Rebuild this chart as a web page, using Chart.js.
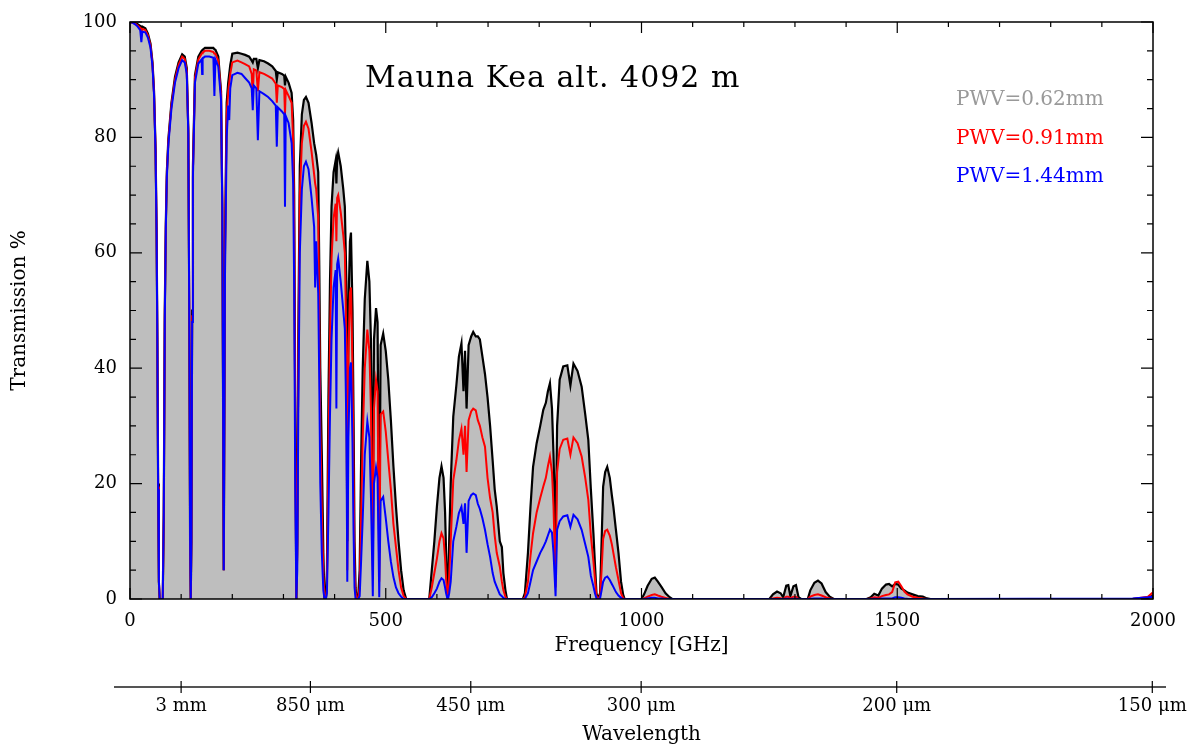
<!DOCTYPE html>
<html>
<head>
<meta charset="utf-8">
<title>Mauna Kea transmission</title>
<script src="https://cdn.jsdelivr.net/npm/chart.js@4/dist/chart.umd.min.js"></script>
<style>
    html, body { margin: 0; padding: 0; background: #fff; }
    canvas { display: block; }
</style>
</head>
<body>
<canvas id="chartTrans" width="1191" height="746"></canvas>
<script>

// =====================================
// DATA
// =====================================

// frequency grid [GHz], one row per atmospheric window
const freq = [
    0, 5, 10, 15, 20, 22.2, 24, 30, 35, 40, 44, 47, 50, 52, 53.5, 55, 56.5, 58,
    64, 66, 68, 70, 72, 75, 81, 88, 95, 102, 107, 111, 114, 116, 117.5, 118.75, 120, 121.5, 123,
    127, 133.6, 140, 141, 142, 146.6, 155, 163, 165, 167, 172.6, 178, 180.5, 183.3, 185.7,
    189, 192, 194, 196, 200, 210, 218, 225, 233, 238, 240, 242, 247, 250, 253, 262, 270, 278, 285, 287, 289, 297, 301.5, 303, 304.5, 310, 316, 319, 321, 323, 325.2,
    327, 329, 332, 336, 340, 344, 349, 355, 360, 362, 364, 368, 370, 372, 375, 378, 380.2, 383,
    385, 388, 391, 394, 398, 402, 403.5, 405, 407, 412, 417, 420, 423, 424.8, 427, 430, 432, 435, 437, 439, 441, 443,
    446, 449, 452, 455, 459, 464, 468, 471, 474.7, 477, 481, 484, 487.3, 490, 495, 500, 505, 510, 515, 520, 525, 530, 535, 540,
    585, 590, 595, 600, 605, 609, 613, 616, 618, 620.7,
    622, 624, 627, 632, 638, 643, 648, 652, 655, 658, 662, 667, 671, 676, 680, 684, 689, 694, 699, 704, 709, 713, 717, 723, 727, 730, 734, 737,
    768, 772, 778, 783, 788, 795, 802, 808, 813, 817, 821, 825, 828, 832, 835, 840, 847, 855, 861, 867, 875, 883, 890, 896, 901, 906, 909, 912, 915,
    919, 922, 925, 929, 933, 938, 942, 945, 950, 955, 960, 964, 967,
    1000, 1005, 1012, 1020, 1026, 1032, 1039, 1047, 1055, 1060,
    1250, 1257, 1265, 1272, 1277, 1283, 1287, 1291, 1297, 1302, 1307, 1312, 1325, 1330, 1338, 1345, 1352, 1360, 1368, 1376,
    1440, 1448, 1455, 1463, 1470, 1478, 1484, 1490, 1496, 1502, 1508, 1514, 1520, 1530, 1540, 1550, 1558, 1565,
    1960, 1990, 1998, 2000
];

// transmission [%] for PWV = 0.62 mm
const pwv062 = [
    100, 99.9, 99.8, 99.6, 99.3, 98.8, 99.2, 98.9, 98.0, 96.3, 93.0, 88.0, 78.0, 64.0, 45, 20, 3, 0,
    0, 15, 50, 65, 74, 79.7, 86, 90.5, 93, 94.4, 94, 92, 81.6, 49, 10, 0, 10, 50, 75,
    90.8, 94, 95, 95.1, 95.2, 95.5, 95.5, 95.5, 95.3, 95.2, 94, 88, 68.6, 5, 62,
    86, 89.5, 91, 92.5, 94.5, 94.7, 94.5, 94.3, 94, 93.3, 93, 93.6, 93.6, 92, 93.4, 93.2, 92.8, 92.3, 91.5, 90, 91.3, 91, 90.7, 89, 90.5, 89.5, 87.7, 83, 70, 35, 0,
    10, 45, 75, 84, 86.5, 87, 86, 82.5, 79, 78, 77, 74, 58, 40, 25, 8, 0, 0,
    5, 35, 55, 68, 74, 76, 72, 76.5, 77.4, 75, 71, 68, 55, 10, 50, 62, 63.5, 50, 32, 10, 2, 0,
    0, 5, 25, 40, 52, 58.6, 55, 45, 15, 45, 50.4, 48, 8, 44, 46, 43, 38, 31, 23, 16, 10, 5, 1.5, 0,
    0, 5, 10, 16, 21, 23, 21, 15, 8, 0.5,
    2, 10, 20, 31.6, 37, 42, 44.3, 36, 43, 33, 44, 45.5, 46.3, 45.5, 45.5, 45, 42, 39, 35, 30, 24, 19, 16, 10, 9, 4.5, 1.5, 0,
    0, 1, 8, 16, 22.9, 27, 30, 32.8, 34, 36, 37.4, 33, 25, 10, 30, 38, 40.3, 40.5, 37, 40.8, 39.5, 36.8, 32, 27.6, 19, 11.4, 6, 1, 0,
    1, 10, 19.5, 22, 22.9, 21, 18, 16, 12, 8, 3, 0.8, 0,
    0, 0.8, 2.3, 3.5, 3.7, 3, 2.1, 1, 0.3, 0,
    0, 0.8, 1.3, 1, 0.3, 2.3, 2.4, 0.5, 2.2, 2.4, 0.3, 0, 0, 1.5, 2.8, 3.2, 2.7, 1.2, 0.4, 0,
    0, 0.3, 0.9, 0.6, 1.8, 2.5, 2.6, 2.2, 2.6, 2.5, 1.8, 1.5, 1.1, 0.8, 0.5, 0.4, 0.1, 0,
    0, 0.2, 0.5, 0.3
];

// transmission [%] for PWV = 0.91 mm
const pwv091 = [
    100, 99.9, 99.7, 99.4, 99.0, 98.0, 98.8, 98.6, 97.7, 96.0, 92.7, 87.7, 77.6, 63.6, 44.5, 19.5, 3, 0,
    0, 14.5, 49, 64.5, 73.5, 79.3, 85.6, 90, 92.6, 94, 93.6, 91.5, 81, 48, 10, 0, 10, 49, 74,
    90.3, 93.5, 94.5, 94.6, 94.7, 95, 95, 94.8, 94.5, 94.5, 93.3, 87.5, 68, 5, 60,
    84, 88, 89.5, 91, 93, 93.3, 93, 92.7, 92.3, 91, 87, 91.8, 91.6, 88, 91.3, 91, 90.6, 90.2, 89.3, 86, 89, 88.7, 88.4, 84, 88.2, 87.2, 86, 79.5, 64, 29, 0,
    8, 40, 70, 79, 82, 82.7, 81.5, 77.5, 73.6, 72, 71, 66, 48, 30, 15, 4, 0, 0,
    2, 25, 45, 59, 66, 68.5, 62, 69.5, 70, 67, 63, 60, 45, 5, 42, 53, 54, 40, 22, 5, 1, 0,
    0, 2, 15, 28, 40, 46.7, 43, 33, 5, 33, 38, 36, 3, 32, 32.5, 29, 24, 19, 13, 9, 5, 2, 0.5, 0,
    0, 2, 4.5, 7, 10, 11.4, 10.5, 7, 3.5, 0.2,
    0.5, 4, 10, 20.6, 24, 27.5, 29.5, 25, 30, 22, 31, 32.5, 33, 32.7, 31, 30, 28, 26.4, 21, 17.5, 15, 11, 8, 5.6, 3, 1.5, 0.4, 0,
    0, 0.3, 3, 7.5, 11.4, 15, 17.5, 19.5, 21, 23, 24.7, 22, 16, 2, 22, 26, 27.6, 27.8, 25, 28, 27, 24.7, 21, 17.2, 11, 6.5, 3.5, 0.5, 0,
    0.5, 5, 10.4, 11.8, 12, 11, 9.5, 8, 5.5, 3.3, 1, 0.2, 0,
    0, 0.1, 0.4, 0.7, 0.8, 0.6, 0.4, 0.2, 0, 0,
    0, 0.1, 0.2, 0.15, 0, 0.4, 0.4, 0.1, 0.4, 0.4, 0, 0, 0, 0.4, 0.7, 0.8, 0.6, 0.3, 0.1, 0,
    0, 0.1, 0.3, 0.2, 0.5, 0.7, 0.8, 1.2, 2.9, 3, 2.2, 1.3, 0.8, 0.4, 0.2, 0.1, 0, 0,
    0, 0.4, 1, 0.8
];

// transmission [%] for PWV = 1.44 mm
const pwv144 = [
    100, 99.9, 99.6, 99.2, 98.6, 96.5, 98.3, 98.2, 97.3, 95.6, 92.3, 87.3, 77.2, 63.2, 44, 19, 3, 0,
    0, 14, 48, 64, 73, 78.8, 85, 89.5, 92, 93.4, 93, 91, 80.5, 47, 10, 0, 10, 48, 73,
    89.5, 92.8, 93.5, 91, 93.7, 94, 94, 93.8, 87.2, 93.5, 92.3, 86.5, 67, 5, 56,
    80, 85.5, 83, 88.5, 90.8, 91.2, 91, 90.3, 89.5, 88.5, 84.7, 89, 88.5, 79.5, 88, 87.5, 87, 86.3, 85.5, 78.4, 85.2, 84.5, 84, 68, 83.7, 82.5, 79, 72, 54, 20, 0,
    5, 32, 60, 71, 75, 75.8, 74.5, 69.5, 64.5, 54, 62, 53, 38, 20, 8, 1.5, 0, 0,
    1, 15, 32, 45, 54, 57, 33, 58, 59, 55, 50, 46.8, 30, 3, 28, 40, 41, 27, 12, 2, 0, 0,
    0, 0.5, 7, 14, 25, 30.8, 28, 18, 0.5, 20, 22.8, 21, 0.3, 17, 17.7, 14, 10, 6.5, 3.8, 2, 1, 0.4, 0, 0,
    0, 0.3, 1, 1.8, 3, 3.6, 3.3, 2, 1, 0,
    0.1, 1, 3, 10, 12.5, 14.9, 16, 13, 16.6, 8, 17, 18, 18.3, 18, 16.5, 15.6, 14, 12, 9.5, 7.3, 4.5, 3, 2.1, 0.8, 0.5, 0.2, 0, 0,
    0, 0, 1, 3, 5, 6.5, 8, 9, 10, 11, 12, 11.5, 8, 0.5, 12, 13.5, 14.3, 14.5, 12.5, 14.6, 13.8, 12, 9.5, 7.3, 4, 2.2, 1, 0.1, 0,
    0.1, 1.5, 3, 3.7, 3.9, 3.3, 2.6, 2.1, 1.2, 0.6, 0.2, 0, 0,
    0, 0, 0.1, 0.2, 0.2, 0.1, 0.1, 0, 0, 0,
    0, 0, 0, 0, 0, 0.05, 0.05, 0, 0.05, 0.05, 0, 0, 0, 0.05, 0.1, 0.1, 0.1, 0, 0, 0,
    0, 0, 0.05, 0, 0.1, 0.1, 0.1, 0.1, 0.3, 0.3, 0.2, 0.1, 0.05, 0, 0, 0, 0, 0,
    0.1, 0.3, 0.4, 0.3
];

const seriesLabels = ["PWV=0.62mm", "PWV=0.91mm", "PWV=1.44mm"];

// wavelength axis: ticks in micron, labels
const wlMicron = [3000, 850, 450, 300, 200, 150];
const wlLabels = ["3 mm", "850 μm", "450 μm", "300 μm", "200 μm", "150 μm"];
const wlFreq = wlMicron.map(w => 299792.458 / w);   // GHz

const titleText = "Mauna Kea alt. 4092 m";

// =====================================
// STYLE
// =====================================

const FONT = "'DejaVu Serif', 'Liberation Serif', serif";
const legendColors = ["#999999", "#ff0000", "#0000ff"];

function toPoints(values) {
    return freq.map((f, i) => ({ x: f, y: values[i] }));
}

// =====================================
// FRAME, INWARD TICKS, WAVELENGTH AXIS, TEXT
// =====================================

const framePlugin = {
    id: "framePlugin",
    afterDraw(chart) {

        const { ctx, chartArea: a, scales } = chart;
        const xs = scales.x;
        const ys = scales.y;
        const x2 = scales.x2;

        ctx.save();

        // frame
        ctx.strokeStyle = "#000";
        ctx.lineWidth = 1.5;
        ctx.strokeRect(a.left, a.top, a.right - a.left, a.bottom - a.top);

        // ticks pointing inward, on all four sides
        ctx.lineWidth = 1.2;
        ctx.beginPath();
        for (let v = 0; v <= 100; v += 5) {
            const y = ys.getPixelForValue(v);
            const len = v % 20 === 0 ? 12 : 6;
            ctx.moveTo(a.left, y);
            ctx.lineTo(a.left + len, y);
            ctx.moveTo(a.right, y);
            ctx.lineTo(a.right - len, y);
        }
        for (let f = 0; f <= 2000; f += 100) {
            const x = xs.getPixelForValue(f);
            const len = f % 500 === 0 ? 11 : 5;
            ctx.moveTo(x, a.bottom);
            ctx.lineTo(x, a.bottom - len);
            ctx.moveTo(x, a.top);
            ctx.lineTo(x, a.top + len);
        }
        ctx.stroke();

        // wavelength axis line with crossing ticks
        const yl = x2.top + 28;
        ctx.strokeStyle = "#555";
        ctx.lineWidth = 2;
        ctx.beginPath();
        ctx.moveTo(a.left - 16, yl);
        ctx.lineTo(a.right + 13, yl);
        ctx.stroke();

        ctx.strokeStyle = "#000";
        ctx.lineWidth = 1.2;
        ctx.beginPath();
        wlFreq.forEach(f => {
            const x = x2.getPixelForValue(f);
            ctx.moveTo(x, yl - 6);
            ctx.lineTo(x, yl + 6);
        });
        ctx.stroke();

        // title inside the plot
        ctx.fillStyle = "#000";
        ctx.font = `30px ${FONT}`;
        ctx.textAlign = "left";
        ctx.textBaseline = "alphabetic";
        ctx.letterSpacing = "1px";
        ctx.fillText(titleText, 365, 87);

        // legend texts
        ctx.font = `20px ${FONT}`;
        ctx.letterSpacing = "0px";
        seriesLabels.forEach((t, i) => {
            ctx.fillStyle = legendColors[i];
            ctx.fillText(t, a.right - 197, 105 + i * 38.5);
        });

        ctx.restore();
    }
};

// =====================================
// CHART
// =====================================

const tickFont = { family: FONT, size: 18 };
const titleFont = { family: FONT, size: 20, lineHeight: 1 };
const noGrid = { display: false, drawTicks: false };

new Chart(document.getElementById("chartTrans"), {
    type: "line",
    data: {
        datasets: [
            {
                label: seriesLabels[2],
                data: toPoints(pwv144),
                borderColor: "#0000ff",
                borderWidth: 2,
                fill: false,
                order: 1
            },
            {
                label: seriesLabels[1],
                data: toPoints(pwv091),
                borderColor: "#ff0000",
                borderWidth: 2,
                fill: false,
                order: 2
            },
            {
                label: seriesLabels[0],
                data: toPoints(pwv062),
                borderColor: "#000000",
                backgroundColor: "#bebebe",
                borderWidth: 2.2,
                fill: "origin",
                order: 3
            }
        ]
    },
    options: {
        responsive: false,
        animation: false,
        devicePixelRatio: 1,
        layout: {
            padding: { left: 0, top: 22, right: 38, bottom: 0 }
        },
        elements: {
            point: { radius: 0, hoverRadius: 0 },
            line: { tension: 0 }
        },
        plugins: {
            legend: { display: false },
            tooltip: { enabled: false }
        },
        scales: {
            x: {
                type: "linear",
                position: "bottom",
                min: 0,
                max: 2000,
                grid: noGrid,
                border: { display: false },
                ticks: {
                    stepSize: 500,
                    color: "#000",
                    font: tickFont,
                    padding: 12,
                    maxRotation: 0,
                    callback: v => String(v)
                },
                title: {
                    display: true,
                    text: "Frequency [GHz]",
                    color: "#000",
                    font: titleFont,
                    padding: { top: 0, bottom: 3 }
                },
                afterFit(s) {
                    s.height = 60;
                    s.paddingLeft = 0;
                    s.paddingRight = 0;
                }
            },
            y: {
                type: "linear",
                position: "left",
                min: 0,
                max: 100,
                grid: noGrid,
                border: { display: false },
                ticks: {
                    stepSize: 20,
                    color: "#000",
                    font: tickFont,
                    padding: 13,
                    callback: v => String(v)
                },
                title: {
                    display: true,
                    text: "Transmission %",
                    color: "#000",
                    font: titleFont,
                    padding: { top: 10, bottom: 0 }
                },
                afterFit(s) {
                    s.width = 130;
                    s.paddingTop = 0;
                    s.paddingBottom = 0;
                }
            },
            x2: {
                type: "linear",
                position: "bottom",
                min: 0,
                max: 2000,
                grid: noGrid,
                border: { display: false },
                afterBuildTicks(s) {
                    s.ticks = wlFreq.map(v => ({ value: v }));
                },
                ticks: {
                    autoSkip: false,
                    maxRotation: 0,
                    color: "#000",
                    font: tickFont,
                    padding: 37,
                    callback: (v, i) => wlLabels[i]
                },
                title: {
                    display: true,
                    text: "Wavelength",
                    color: "#000",
                    font: titleFont,
                    padding: { top: 0, bottom: 1 }
                },
                afterFit(s) {
                    s.height = 87;
                    s.paddingLeft = 0;
                    s.paddingRight = 0;
                }
            }
        }
    },
    plugins: [framePlugin]
});

</script>
</body>
</html>
